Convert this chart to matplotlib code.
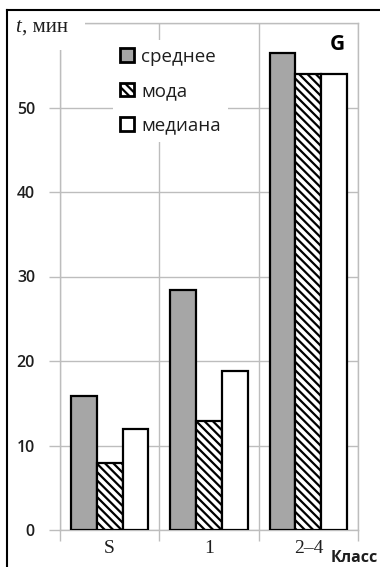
import numpy as np
import matplotlib
matplotlib.use("Agg")
import matplotlib.pyplot as plt
from matplotlib.patches import Rectangle
from matplotlib.lines import Line2D

# --- data ---
categories = ['S', '1', '2–4']
mean_vals = [15.8, 28.4, 56.5]
mode_vals = [7.9, 12.9, 54.0]
median_vals = [11.9, 18.8, 54.0]
series_names = ['среднее', 'мода', 'медиана']
y_ticks = [0, 10, 20, 30, 40, 50, 60]

W, H = 380, 567
plt.rcParams['hatch.linewidth'] = 1.6

fig = plt.figure(figsize=(W / 100, H / 100), dpi=100)
ax = fig.add_axes([60 / W, 37 / H, 298 / W, 507 / H])

grid_c = '#bdbdbd'
text_c = '#1e1e1e'
sans = 'Open Sans'
serif = 'Liberation Serif'

x = np.arange(len(categories))
w = 0.26
bar_kw = dict(width=w, edgecolor='black', linewidth=1.6, zorder=3)
ax.bar(x - w, mean_vals, color='#a6a6a6', label=series_names[0], **bar_kw)
ax.bar(x, mode_vals, color='white', hatch='\\\\\\\\', label=series_names[1], **bar_kw)
ax.bar(x + w, median_vals, color='white', label=series_names[2], **bar_kw)

ax.set_xlim(-0.5, len(categories) - 0.5)
ax.set_ylim(0, 60)

# category boundaries as major ticks (gridlines), labels on minor ticks
ax.set_xticks(np.arange(len(categories) + 1) - 0.5)
ax.set_xticklabels([])
ax.set_xticks(x, minor=True)
ax.set_xticklabels(categories, minor=True, fontfamily=serif, fontsize=14, color=text_c)
ax.tick_params(axis='x', which='minor', length=0, pad=7)
ax.tick_params(axis='x', which='major', length=8, direction='out', color=grid_c, width=1)

ax.set_yticks(y_ticks)
ax.set_yticklabels([str(v) if v < 60 else '' for v in y_ticks],
                   fontfamily=sans, fontsize=11.5, fontweight='semibold', color=text_c)
ax.tick_params(axis='y', length=8, direction='out', color=grid_c, width=1, pad=10)

ax.grid(True, which='major', color=grid_c, linewidth=1, zorder=0)
ax.set_axisbelow(True)
for s in ax.spines.values():
    s.set_color(grid_c)
    s.set_linewidth(1)

leg = ax.legend(loc='upper left', bbox_to_anchor=(113 / W, 1 - 40 / H),
                bbox_transform=fig.transFigure, borderaxespad=0,
                frameon=True, fancybox=False, framealpha=1, edgecolor='none',
                prop={'family': sans, 'size': 13.5}, labelcolor=text_c,
                handlelength=0.7, handleheight=0.7, handletextpad=0.4,
                labelspacing=0.88, borderpad=0.4)
leg.set_zorder(5)
for hnd in leg.legend_handles:
    hnd.set_linewidth(2)

# white patch behind the axis title
fig.patches.append(Rectangle((8 / W, 1 - 50 / H), 77 / W, 39 / H,
                             transform=fig.transFigure, facecolor='white',
                             edgecolor='none', zorder=1))
fig.text(15 / W, 1 - 27 / H, 't', fontfamily=serif, style='italic', fontsize=15,
         color=text_c, va='center', ha='left', zorder=3)
fig.text(22 / W, 1 - 27 / H, ', мин', fontfamily=serif, fontsize=15,
         color=text_c, va='center', ha='left', zorder=3)

fig.text(337 / W, 1 - 45 / H, 'G', fontfamily=sans, fontweight='bold', fontsize=15,
         color='black', va='center', ha='center')
fig.text(378 / W, 1 - 558 / H, 'Класс', fontfamily=sans, fontweight='bold', fontsize=11.5,
         color=text_c, va='center', ha='right')

# frame lines on the top and left edges
fig.add_artist(Line2D([7 / W, 1], [1 - 10 / H, 1 - 10 / H], color='black', lw=1.5,
                      transform=fig.transFigure))
fig.add_artist(Line2D([7 / W, 7 / W], [0, 1 - 10 / H], color='black', lw=1.5,
                      transform=fig.transFigure))

fig.savefig('out.png', dpi=100)
